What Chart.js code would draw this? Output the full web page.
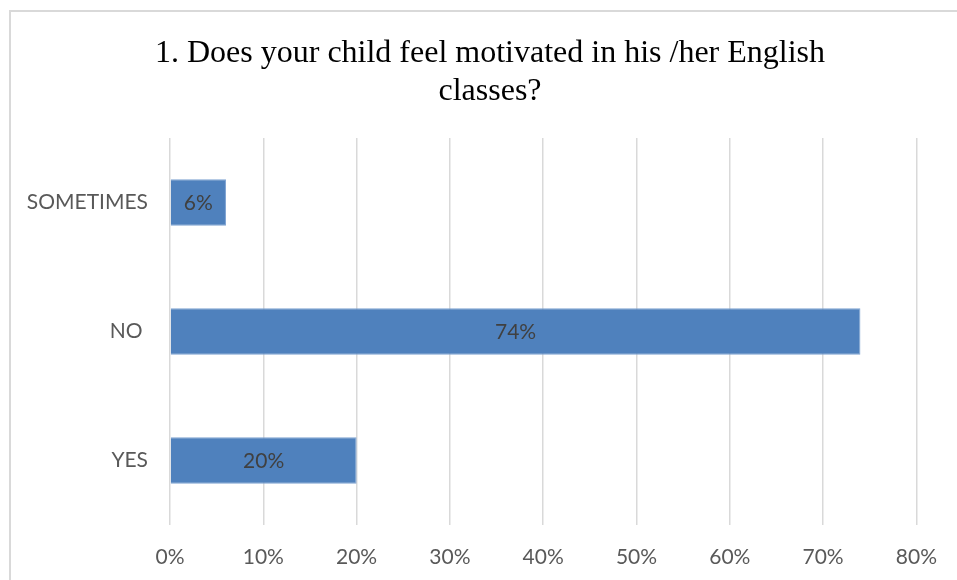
<!DOCTYPE html>
<html>
<head>
<meta charset="utf-8">
<script src="https://cdn.jsdelivr.net/npm/chart.js@4.4.1/dist/chart.umd.min.js"></script>
<style>
  html, body { margin: 0; padding: 0; background: #fff; overflow: hidden; }
  #frame {
    position: absolute; left: 9px; top: 10px;
    width: 980px; height: 600px;
    border: 2px solid #d9d9d9; box-sizing: border-box;
  }
  #wrap { position: absolute; left: 0; top: 0; width: 957px; height: 580px; }
  #title {
    position: absolute; left: 90px; width: 800px; top: 32px;
    font: 32px/38px 'Liberation Serif', serif; color: #000;
    text-align: center;
  }
</style>
</head>
<body>
<div id="frame"></div>
<div id="wrap"><canvas id="chart"></canvas></div>
<div id="title"></div>
<script>
const categories = ['SOMETIMES', 'NO ', 'YES'];
const percentages = [6, 74, 20];
const axisTicks = [0, 10, 20, 30, 40, 50, 60, 70, 80];

const titleLines = ['1. Does your child feel motivated in his /her English', 'classes?'];
document.getElementById('title').innerHTML = titleLines.join('<br>');

// prints the value in the middle of each bar
const barValues = {
  id: 'barValues',
  afterDatasetsDraw(chart) {
    const ctx = chart.ctx;
    const meta = chart.getDatasetMeta(0);
    ctx.save();
    ctx.font = '21px Lato';
    ctx.fillStyle = '#404040';
    ctx.textAlign = 'center';
    ctx.textBaseline = 'middle';
    meta.data.forEach((bar, i) => {
      const mid = (bar.x + bar.base) / 2;
      ctx.fillText(percentages[i] + '%', mid, bar.y + 1);
    });
    ctx.restore();
  }
};

new Chart(document.getElementById('chart'), {
  type: 'bar',
  data: {
    labels: categories,
    datasets: [{
      data: percentages,
      backgroundColor: '#4f81bd',
      borderColor: '#7ea3d2',
      borderWidth: 1,
      barPercentage: 0.36,
      categoryPercentage: 1
    }]
  },
  options: {
    indexAxis: 'y',
    responsive: true,
    maintainAspectRatio: false,
    animation: false,
    layout: { padding: { left: 15, right: 39, top: 138, bottom: 0 } },
    scales: {
      x: {
        min: 0,
        max: 80,
        afterBuildTicks(axis) {
          axis.ticks = axisTicks.map(v => ({ value: v }));
        },
        afterFit(axis) { axis.height = 55; },
        grid: { color: '#d9d9d9', lineWidth: 1.5, drawTicks: false },
        border: { display: false },
        ticks: {
          padding: 20,
          color: '#595959',
          font: { family: 'Lato', size: 21 },
          callback: v => v + '%'
        }
      },
      y: {
        afterFit(axis) { axis.width = 155; },
        grid: { display: false, drawTicks: false },
        border: { display: false },
        ticks: {
          padding: 22,
          color: '#595959',
          font: { family: 'Lato', size: 21 }
        }
      }
    },
    plugins: {
      legend: { display: false },
      tooltip: { enabled: false },
      title: { display: false }
    }
  },
  plugins: [barValues]
});
</script>
</body>
</html>
